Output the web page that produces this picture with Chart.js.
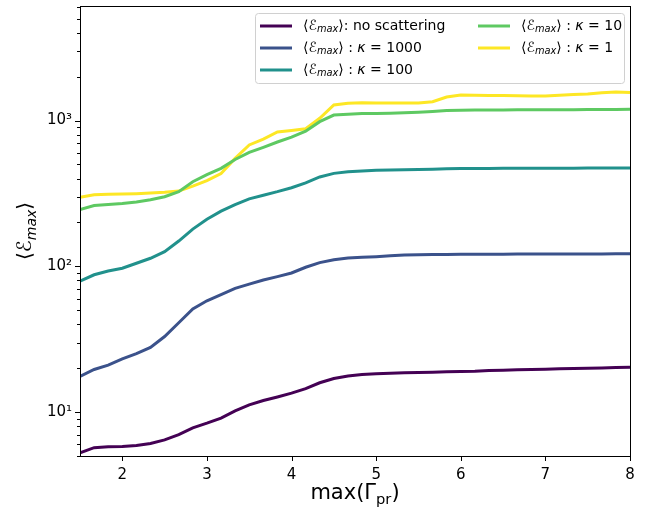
<!DOCTYPE html>
<html>
<head>
<meta charset="utf-8">
<script src="https://cdn.jsdelivr.net/npm/chart.js@4"></script>
<style>
html, body { margin: 0; background: #fff; }
#wrap { width: 647px; height: 508px; }
</style>
</head>
<body>
<div id="wrap"><canvas id="myChart"></canvas></div>
<script>
// max(Gamma_pr) grid
const xVals = [1.5, 1.667, 1.833, 2.0, 2.167, 2.333, 2.5, 2.667, 2.833, 3.0,
               3.167, 3.333, 3.5, 3.667, 3.833, 4.0, 4.167, 4.333, 4.5, 4.667,
               4.833, 5.0, 5.167, 5.333, 5.5, 5.667, 5.833, 6.0, 6.167, 6.333,
               6.5, 6.667, 6.833, 7.0, 7.167, 7.333, 7.5, 7.667, 7.833, 8.0];

const noScatter = [5.25, 5.7, 5.78, 5.82, 5.9, 6.1, 6.45, 7.0, 7.8, 8.4,
                   9.1, 10.2, 11.2, 12.0, 12.7, 13.5, 14.5, 15.9, 17.0, 17.7,
                   18.1, 18.3, 18.5, 18.6, 18.7, 18.8, 18.9, 19.0, 19.1, 19.3,
                   19.4, 19.5, 19.6, 19.7, 19.8, 19.9, 20.0, 20.1, 20.2, 20.3];
const kappa1000 = [17.6, 19.6, 21.0, 23.2, 25.2, 27.8, 33, 41, 51, 58,
                   64, 70.5, 75.5, 80.5, 85, 90, 98.5, 106, 111, 114,
                   115.2, 116.5, 118, 119.5, 120, 120.3, 120.6, 120.8, 121, 121.1,
                   121.2, 121.3, 121.4, 121.4, 121.5, 121.5, 121.6, 121.6, 121.7, 121.7];
const kappa100 = [79, 87.5, 92.8, 97, 105, 113.5, 126, 149, 180, 210,
                  239, 265, 290, 307, 325, 346, 373, 410, 434, 445,
                  451, 455, 458, 460, 462, 464, 466, 468, 469, 469.5,
                  470, 470, 470.5, 470.5, 471, 471, 471.5, 471.5, 472, 472];
const kappa10 = [245, 261, 265.5, 270, 276.5, 286, 300, 325, 380, 425,
                 470, 540, 605, 655, 712, 770, 845, 982, 1090, 1105,
                 1115, 1118, 1122, 1130, 1140, 1155, 1170, 1178, 1180, 1181,
                 1182, 1183, 1184, 1185, 1186, 1187, 1188, 1190, 1192, 1194];
const kappa1 = [298, 310, 311.5, 313, 315, 318, 322, 328, 355, 387,
                433, 550, 680, 745, 835, 855, 878, 1035, 1277, 1313,
                1322, 1320, 1318, 1318, 1320, 1345, 1450, 1495, 1490, 1485,
                1482, 1478, 1474, 1475, 1490, 1505, 1520, 1548, 1568, 1555];

const xTicks = [2, 3, 4, 5, 6, 7, 8];
const yMajorTicks = [10, 100, 1000];

const seriesNames = ['⟨ℰmax⟩: no scattering', '⟨ℰmax⟩ : κ = 1000', '⟨ℰmax⟩ : κ = 100',
                     '⟨ℰmax⟩ : κ = 10', '⟨ℰmax⟩ : κ = 1'];
const seriesData = [noScatter, kappa1000, kappa100, kappa10, kappa1];
const seriesColors = ['#440154', '#3b528b', '#21918c', '#5ec962', '#fde725'];

const FONT = '"DejaVu Sans", sans-serif';
const supers = { 1: '¹', 2: '²', 3: '³' };

// label pieces: [text, italic, subscript]
function labelParts(name) {
    const rest = name.replace('⟨ℰmax⟩', '');
    const parts = [['⟨', 0, 0], ['ℰ', 1, 0], ['max', 1, 1]];
    if (rest.includes('κ')) {
        parts.push(['⟩ : ', 0, 0], ['κ', 1, 0], [rest.split('κ')[1], 0, 0]);
    } else {
        parts.push(['⟩' + rest, 0, 0]);
    }
    return parts;
}

function drawRich(ctx, parts, x, y, size) {
    let cx = x;
    parts.forEach(([t, it, sub]) => {
        const s = sub ? size * 0.7 : size;
        ctx.font = (it ? 'italic ' : '') + s + 'px ' + FONT;
        ctx.fillText(t, cx, sub ? y + size * 0.24 : y);
        cx += ctx.measureText(t).width;
    });
    return cx - x;
}

function richWidth(ctx, parts, size) {
    let w = 0;
    parts.forEach(([t, it, sub]) => {
        const s = sub ? size * 0.7 : size;
        ctx.font = (it ? 'italic ' : '') + s + 'px ' + FONT;
        w += ctx.measureText(t).width;
    });
    return w;
}

const decorPlugin = {
    id: 'decor',
    afterDraw(chart) {
        const ctx = chart.ctx;
        const a = chart.chartArea;
        const xs = chart.scales.x, ys = chart.scales.y;
        ctx.save();
        ctx.strokeStyle = '#000';
        ctx.lineWidth = 1;

        // tick marks (major + log minor)
        ctx.beginPath();
        xTicks.forEach(v => {
            const px = Math.round(xs.getPixelForValue(v)) + 0.5;
            ctx.moveTo(px, a.bottom); ctx.lineTo(px, a.bottom + 5);
        });
        for (let e = 0; e <= 3; e++) {
            for (let m = 1; m <= 9; m++) {
                const v = m * Math.pow(10, e);
                if (v < ys.min || v > ys.max) continue;
                const py = Math.round(ys.getPixelForValue(v)) + 0.5;
                const len = m === 1 ? 5 : 3;
                ctx.moveTo(a.left, py); ctx.lineTo(a.left - len, py);
            }
        }
        ctx.stroke();

        // frame
        ctx.strokeRect(Math.round(a.left) + 0.5, Math.round(a.top) + 0.5,
                       Math.round(a.right - a.left), Math.round(a.bottom - a.top));

        // axis titles
        ctx.fillStyle = '#000';
        ctx.textBaseline = 'alphabetic';
        const xt = [['max(Γ', 0, 0], ['pr', 0, 1], [')', 0, 0]];
        const xw = richWidth(ctx, xt, 21);
        drawRich(ctx, xt, (a.left + a.right) / 2 - xw / 2, 499, 21);

        const yt = [['⟨', 0, 0], ['ℰ', 1, 0], ['max', 1, 1], ['⟩', 0, 0]];
        const yw = richWidth(ctx, yt, 20);
        ctx.save();
        ctx.translate(31, (a.top + a.bottom) / 2);
        ctx.rotate(-Math.PI / 2);
        drawRich(ctx, yt, -yw / 2, 0, 20);
        ctx.restore();

        // legend, two columns filled column-first
        const lx = 255, ly = 13, lw = 369, lh = 70;
        ctx.fillStyle = 'rgba(255,255,255,0.85)';
        ctx.strokeStyle = '#d0d0d0';
        ctx.lineWidth = 1;
        ctx.beginPath();
        ctx.roundRect(lx + 0.5, ly + 0.5, lw, lh, 3);
        ctx.fill();
        ctx.stroke();
        const cols = [260, 478];
        const rows = [26, 48, 70];
        seriesNames.forEach((name, i) => {
            const cx = cols[Math.floor(i / 3)];
            const cy = rows[i % 3];
            ctx.strokeStyle = seriesColors[i];
            ctx.lineWidth = 3;
            ctx.beginPath();
            ctx.moveTo(cx, cy); ctx.lineTo(cx + 32, cy);
            ctx.stroke();
            ctx.fillStyle = '#000';
            ctx.textBaseline = 'middle';
            drawRich(ctx, labelParts(name), cx + 43, cy, 14);
        });
        ctx.restore();
    }
};

const ctx = document.getElementById('myChart').getContext('2d');
new Chart(ctx, {
    type: 'line',
    data: {
        datasets: seriesNames.map((name, i) => ({
            label: name,
            data: xVals.map((x, j) => ({ x: x, y: seriesData[i][j] })),
            borderColor: seriesColors[i],
            borderWidth: 3,
            pointRadius: 0,
            tension: 0,
            fill: false
        }))
    },
    options: {
        responsive: true,
        maintainAspectRatio: false,
        animation: false,
        layout: { padding: { left: 0, top: 6, right: 17, bottom: 0 } },
        scales: {
            x: {
                type: 'linear',
                min: 1.5,
                max: 8,
                afterBuildTicks: s => { s.ticks = xTicks.map(v => ({ value: v })); },
                afterFit: s => { s.height = 52; s.paddingLeft = 0; s.paddingRight = 0; },
                grid: { display: false, drawTicks: false },
                border: { display: false },
                ticks: { color: '#000', font: { family: FONT, size: 15 }, padding: 10, maxRotation: 0 }
            },
            y: {
                type: 'logarithmic',
                min: 5,
                max: 6100,
                afterBuildTicks: s => { s.ticks = yMajorTicks.map(v => ({ value: v })); },
                afterFit: s => { s.width = 80; s.paddingTop = 0; s.paddingBottom = 0; },
                grid: { display: false, drawTicks: false },
                border: { display: false },
                ticks: {
                    autoSkip: false,
                    color: '#000',
                    font: { family: FONT, size: 15 },
                    padding: 8,
                    callback: v => '10' + supers[Math.round(Math.log10(v))]
                }
            }
        },
        plugins: {
            legend: { display: false },
            tooltip: { enabled: false }
        }
    },
    plugins: [decorPlugin]
});
</script>
</body>
</html>
